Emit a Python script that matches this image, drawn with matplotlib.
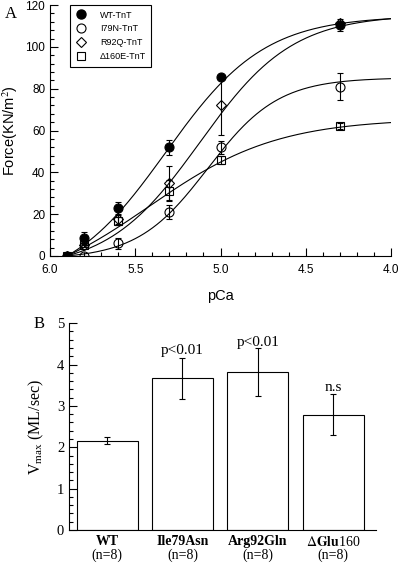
import numpy as np
import matplotlib
import matplotlib.pyplot as plt
from matplotlib.ticker import MultipleLocator
from matplotlib.lines import Line2D

plt.rcParams['font.family'] = ['Liberation Sans', 'DejaVu Sans']
plt.rcParams['mathtext.fontset'] = 'stix'

# ---- panel A data: force vs pCa ----
pca = [5.9, 5.8, 5.6, 5.3, 5.0, 4.3]
wt_force = [0, 8.6, 23, 52, 85.5, 110.5]
wt_err = [0, 3, 3, 3.5, 0, 3]
i79n_pca = [5.8, 5.6, 5.3, 5.0, 4.3]
i79n_force = [0, 6, 21, 52, 81]
i79n_err = [0, 2.5, 3.5, 3, 6.5]
r92q_force = [0, 5, 17.5, 35, 72, 111.5]
r92q_err = [0, 0, 2, 8, 14, 0]
d160e_force = [0, 5.3, 16.7, 31.2, 46, 62.2]
d160e_err = [0, 1, 2, 5, 2, 1.5]

# fitted curves (plateau at pCa 4.0, pCa50, Hill coefficient)
wt_fit = (113.5, 5.32, 1.5)
i79n_fit = (84.8, 5.075, 2.1)
r92q_fit = (113.5, 5.12, 1.6)
d160e_fit = (63.8, 5.42, 1.15)

# ---- panel B data: Vmax ----
groups = ['WT', 'Ile79Asn', 'Arg92Gln', r'$\Delta\mathbf{Glu}$160']
group_bold = [True, True, True, False]
n_labels = ['(n=8)', '(n=8)', '(n=8)', '(n=8)']
vmax = [2.16, 3.67, 3.82, 2.79]
vmax_err = [0.09, 0.5, 0.57, 0.49]
sig_labels = ['', 'p<0.01', 'p<0.01', 'n.s']
sig_y = [0, 4.35, 4.53, 3.45]


def hill_curve(p, top, p50, n, start=5.9, end=4.0):
    h = lambda x: 1.0 / (1.0 + 10 ** (n * (x - p50)))
    return top * (h(p) - h(start)) / (h(end) - h(start))


fig = plt.figure(figsize=(4.0, 5.65), dpi=100)

# ================= panel A =================
ax = fig.add_axes([0.125, 0.547, 0.8525, 0.444])
p = np.linspace(5.9, 4.0, 300)
for fit in [wt_fit, i79n_fit, r92q_fit, d160e_fit]:
    ax.plot(p, hill_curve(p, *fit), color='black', lw=0.8, zorder=1)

ebkw = dict(ecolor='black', elinewidth=0.8, capsize=2.5, capthick=0.8, ls='none', zorder=3)
ax.errorbar(pca, d160e_force, yerr=d160e_err, marker='s', ms=5.5, mfc='none', mec='black', mew=0.8, **ebkw)
ax.errorbar(pca, r92q_force, yerr=r92q_err, marker='D', ms=5, mfc='none', mec='black', mew=0.8, **ebkw)
ax.errorbar(i79n_pca, i79n_force, yerr=i79n_err, marker='o', ms=6.5, mfc='none', mec='black', mew=0.8, **ebkw)
ax.errorbar(pca, wt_force, yerr=wt_err, marker='o', ms=6.5, mfc='black', mec='black', mew=0.8, **ebkw)

ax.set_xlim(6.0, 4.0)
ax.set_ylim(0, 120)
ax.set_xticks([6.0, 5.5, 5.0, 4.5, 4.0])
ax.set_xticklabels(['6.0', '5.5', '5.0', '4.5', '4.0'])
ax.xaxis.set_minor_locator(MultipleLocator(0.1))
ax.set_yticks(range(0, 121, 20))
ax.yaxis.set_minor_locator(MultipleLocator(4))
ax.tick_params(which='both', direction='in', labelsize=8.5, width=0.8)
ax.tick_params(which='major', length=6)
ax.tick_params(which='minor', length=3)
ax.tick_params(axis='x', pad=6)
for s in ['top', 'right']:
    ax.spines[s].set_visible(False)
for s in ['left', 'bottom']:
    ax.spines[s].set_linewidth(0.8)
ax.set_xlabel('pCa', fontsize=10.5, labelpad=9)
ax.set_ylabel('Force(KN/m$^2$)', fontsize=10.5, labelpad=4)

handles = [
    Line2D([], [], ls='none', marker='o', ms=6.5, mfc='black', mec='black'),
    Line2D([], [], ls='none', marker='o', ms=6.5, mfc='none', mec='black', mew=0.8),
    Line2D([], [], ls='none', marker='D', ms=5.5, mfc='none', mec='black', mew=0.8),
    Line2D([], [], ls='none', marker='s', ms=5.5, mfc='none', mec='black', mew=0.8),
]
leg = ax.legend(handles, ['WT-TnT', 'I79N-TnT', 'R92Q-TnT', '\u0394160E-TnT'],
                loc='upper left', bbox_to_anchor=(0.059, 1.0), borderaxespad=0,
                fontsize=6.5, fancybox=False, edgecolor='black', framealpha=1,
                handlelength=1.2, handletextpad=1.5, labelspacing=0.55,
                borderpad=0.6)
leg.get_frame().set_linewidth(0.8)

fig.text(0.012, 0.975, 'A', family='Liberation Serif', fontsize=12, va='center')

# ================= panel B =================
bx = fig.add_axes([0.1725, 0.062, 0.7675, 0.366])
x = np.arange(len(vmax))
bx.bar(x, vmax, width=0.81, color='white', edgecolor='black', lw=0.8,
       yerr=vmax_err, error_kw=dict(ecolor='black', elinewidth=0.8, capsize=2, capthick=0.8))
bx.set_xlim(-0.505, 3.57)
bx.set_ylim(0, 5)
bx.set_xticks([])
bx.yaxis.set_minor_locator(MultipleLocator(0.2))
bx.tick_params(axis='y', which='both', direction='in', width=0.8)
bx.tick_params(axis='y', which='major', length=6, labelsize=10.5)
bx.tick_params(axis='y', which='minor', length=3)
for lab in bx.get_yticklabels():
    lab.set_family('Liberation Serif')
for s in ['top', 'right']:
    bx.spines[s].set_visible(False)
for s in ['left', 'bottom']:
    bx.spines[s].set_linewidth(0.8)
bx.set_ylabel(r'$\mathregular{V_{max}}$ (ML/sec)', family='Liberation Serif', fontsize=11.5, labelpad=8)

tr = bx.get_xaxis_transform()
for i in range(len(groups)):
    bx.text(x[i], -0.056, groups[i], transform=tr, ha='center', va='center',
            family='Liberation Serif', fontsize=10,
            fontweight='bold' if group_bold[i] else 'normal')
    bx.text(x[i], -0.121, n_labels[i], transform=tr, ha='center', va='center',
            family='Liberation Serif', fontsize=10)
    if sig_labels[i]:
        bx.text(x[i], sig_y[i], sig_labels[i], ha='center', va='center',
                family='Liberation Serif', fontsize=11)

fig.text(0.085, 0.426, 'B', family='Liberation Serif', fontsize=12, va='center')

fig.savefig('out.png', dpi=100)
